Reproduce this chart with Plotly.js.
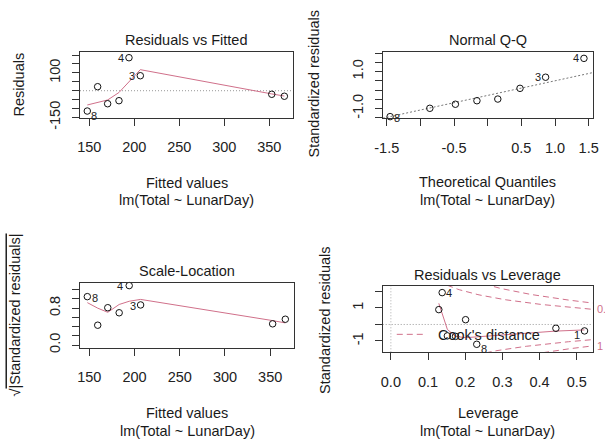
<!DOCTYPE html>
<html>
<head>
<meta charset="utf-8">
<script src="https://cdn.plot.ly/plotly-3.0.1.min.js"></script>
<style>
html,body{margin:0;padding:0;background:#fff;}
#chart{width:605px;height:445px;}
</style>
</head>
<body>
<div id="chart"></div>
<script>
// ---------- data ----------
// Panel 1 & 3: fitted values (shared), residuals, lowess smooth
const fitted        = [147.8, 159.3, 170.4, 183.0, 194.1, 206.7, 352.7, 366.7];
const residuals     = [-114, 22.5, -73, -56, 185, 84, -20, -31];
const residSmooth   = [-80, -66, -52, -10, 50, 118, -18, -30];
const fittedIds     = ['8', '', '', '', '4', '3', '', ''];

// Panel 2: Normal Q-Q
const theoQuantiles = [-1.45, -0.86, -0.48, -0.16, 0.15, 0.48, 0.86, 1.43];
const qqStdResid    = [-1.44, -0.99, -0.77, -0.58, -0.49, 0.09, 0.69, 1.71];
const qqIds         = ['8', '', '', '', '', '', '3', '4'];

// Panel 3: Scale-Location
const sqrtAbsStd    = [1.05, 0.43, 0.81, 0.70, 1.29, 0.87, 0.46, 0.56];
const slSmooth      = [0.92, 0.80, 0.71, 0.88, 0.95, 0.99, 0.53, 0.48];
const slIds         = ['8', '', '', '', '4', '3', '', ''];

// Panel 4: Residuals vs Leverage
const leverage      = [0.129, 0.138, 0.152, 0.174, 0.201, 0.231, 0.444, 0.521];
const levStdResid   = [0.90, 1.93, -0.69, -0.72, 0.29, -1.20, -0.23, -0.39];
const levSmooth     = [1.28, 0.70, -0.30, -0.72, -0.80, -0.75, -0.40, -0.33];
const levIds        = ['', '4', '', '', '', '8', '', '1'];
const cookLevels    = [0.5, 1];
const nCoef         = 2;

// tick labels
const x13Ticks = [150, 200, 250, 300, 350];
const x13Text  = ['150', '200', '250', '300', '350'];
const y1Ticks  = [-150, -100, -50, 0, 50, 100, 150, 200];
const y1Text   = ['-150', '', '', '', '', '100', '', ''];
const x2Ticks  = [-1.5, -1.0, -0.5, 0, 0.5, 1.0, 1.5];
const x2Text   = ['-1.5', '', '-0.5', '', '0.5', '1.0', '1.5'];
const y2Ticks  = [-1.5, -1.0, -0.5, 0, 0.5, 1.0, 1.5, 2.0];
const y2Text   = ['', '-1.0', '', '', '', '1.0', '', ''];
const y3Ticks  = [0, 0.2, 0.4, 0.6, 0.8, 1.0, 1.2];
const y3Text   = ['0.0', '', '', '', '0.8', '', ''];
const x4Ticks  = [0, 0.1, 0.2, 0.3, 0.4, 0.5];
const x4Text   = ['0.0', '0.1', '0.2', '0.3', '0.4', '0.5'];
const y4Ticks  = [-1, 0, 1, 2];
const y4Text   = ['-1', '', '1', ''];

// ---------- layout helpers ----------
const W = 605, H = 445;
const FONT = 'Liberation Sans, Arial, sans-serif';
const FS = 14.5;
const RED = '#D0708A';
const px = v => v / W;
const py = v => 1 - v / H;

const ranges = {
  x1: [139.7, 376.3], y1: [-153, 217],
  x2: [-1.56, 1.56],  y2: [-1.53, 2.07],
  x3: [139.7, 376.3], y3: [-0.065, 1.34],
  x4: [-0.022, 0.543], y4: [-1.685, 2.33]
};

function axisCommon(extra) {
  return Object.assign({
    showline: true, mirror: true, linecolor: '#333', linewidth: 1,
    ticks: 'outside', ticklen: 7, tickwidth: 1, tickcolor: '#333',
    showgrid: false, zeroline: false, fixedrange: true, automargin: false,
    tickfont: {family: FONT, size: FS, color: '#222'},
    tickmode: 'array'
  }, extra);
}

// Q-Q reference line through quartiles (as qqline does)
function quantile7(arr, p) {
  const s = arr.slice().sort((a, b) => a - b);
  const h = (s.length - 1) * p;
  const lo = Math.floor(h);
  return s[lo] + (h - lo) * ((s[lo + 1] !== undefined ? s[lo + 1] : s[lo]) - s[lo]);
}
const q25 = -0.6744897502, q75 = 0.6744897502;
const yq1 = quantile7(qqStdResid, 0.25), yq3 = quantile7(qqStdResid, 0.75);
const qqSlope = (yq3 - yq1) / (q75 - q25);
const qqInt = yq1 - qqSlope * q25;
const qqLineX = ranges.x2.slice();
const qqLineY = qqLineX.map(x => qqInt + qqSlope * x);

// Cook's distance contours
const hStart = Math.min(...leverage) / 100;
const hh = [];
for (let i = 0; i <= 100; i++) hh.push(hStart + (ranges.x4[1] - hStart) * i / 100);
const cookTraces = [];
cookLevels.forEach(c => {
  [1, -1].forEach(sgn => {
    cookTraces.push({
      x: hh, y: hh.map(h => sgn * Math.sqrt(c * nCoef * (1 - h) / h)),
      xaxis: 'x4', yaxis: 'y4', mode: 'lines', hoverinfo: 'skip',
      line: {color: RED, width: 1, dash: '6px,4px'}, showlegend: false
    });
  });
});
const xmax = ranges.x4[1];
const ymult = Math.sqrt(nCoef * (1 - xmax) / xmax);

function pts(x, y, xa, ya) {
  return {x: x, y: y, xaxis: xa, yaxis: ya, mode: 'markers', cliponaxis: false,
    marker: {symbol: 'circle-open', size: 6.5, color: '#111', line: {width: 1, color: '#111'}},
    showlegend: false, hoverinfo: 'skip'};
}
function smooth(x, y, xa, ya) {
  return {x: x, y: y, xaxis: xa, yaxis: ya, mode: 'lines', showlegend: false, hoverinfo: 'skip',
    line: {color: RED, width: 1}};
}

const traces = [
  smooth(fitted, residSmooth, 'x', 'y'),
  pts(fitted, residuals, 'x', 'y'),
  {x: qqLineX, y: qqLineY, xaxis: 'x2', yaxis: 'y2', mode: 'lines', showlegend: false, hoverinfo: 'skip',
   line: {color: '#777', width: 1, dash: '2px,2px'}},
  pts(theoQuantiles, qqStdResid, 'x2', 'y2'),
  smooth(fitted, slSmooth, 'x3', 'y3'),
  pts(fitted, sqrtAbsStd, 'x3', 'y3'),
  ...cookTraces,
  smooth(leverage, levSmooth, 'x4', 'y4'),
  pts(leverage, levStdResid, 'x4', 'y4')
];

// ---------- annotations ----------
const ann = [];
function txt(x, y, text, opts) {
  ann.push(Object.assign({x: px(x), y: py(y), xref: 'paper', yref: 'paper', text: text,
    showarrow: false, xanchor: 'center', yanchor: 'middle',
    font: {family: FONT, size: FS, color: '#1a1a1a'}}, opts || {}));
}
// panel 1
txt(186.5, 39.5, 'Residuals vs Fitted');
txt(186.5, 182.7, 'Fitted values');
txt(186.5, 200, 'lm(Total ~ LunarDay)');
txt(18.5, 85, 'Residuals', {textangle: -90});
// panel 2
txt(487.7, 39.5, 'Normal Q-Q');
txt(487.7, 181.7, 'Theoretical Quantiles');
txt(487.7, 200, 'lm(Total ~ LunarDay)');
txt(313.5, 84, 'Standardized residuals', {textangle: -90});
// panel 3
txt(187, 271, 'Scale-Location');
txt(187, 412.7, 'Fitted values');
txt(187, 430.5, 'lm(Total ~ LunarDay)');
txt(14, 315.5, '√<span style="text-decoration:overline">|Standardized residuals|</span>', {textangle: -90});
// panel 4
txt(487.7, 274.5, 'Residuals vs Leverage');
txt(487.7, 413.3, 'Leverage');
txt(487.7, 431, 'lm(Total ~ LunarDay)');
txt(325, 320, 'Standardized residuals', {textangle: -90});

// point id labels
function ids(x, y, labels, xa, ya, shifts) {
  labels.forEach((lab, i) => {
    if (!lab) return;
    const s = shifts[lab] || [8, 0];
    ann.push({x: x[i], y: y[i], xref: xa, yref: ya, text: lab, showarrow: false,
      xanchor: 'center', yanchor: 'middle', xshift: s[0], yshift: s[1],
      font: {family: FONT, size: 11, color: '#222'}});
  });
}
ids(fitted, residuals, fittedIds, 'x', 'y', {'8': [7, -5], '4': [-8, 0], '3': [-8, 0]});
ids(theoQuantiles, qqStdResid, qqIds, 'x2', 'y2', {'8': [7, -1], '3': [-8, 0], '4': [-8, 0]});
ids(fitted, sqrtAbsStd, slIds, 'x3', 'y3', {'8': [8, -1], '4': [-9, 0], '3': [-8, -1]});
ids(leverage, levStdResid, levIds, 'x4', 'y4', {'4': [7, 0], '8': [7, -5], '1': [-8, -4]});

// Cook's level labels on right side
ann.push({x: 1, y: Math.sqrt(cookLevels[0]) * ymult, xref: 'x4 domain', yref: 'y4', text: String(cookLevels[0]),
  showarrow: false, xanchor: 'left', yanchor: 'middle', xshift: 2, font: {family: FONT, size: 11, color: RED}});
ann.push({x: 1, y: -Math.sqrt(cookLevels[1]) * ymult, xref: 'x4 domain', yref: 'y4', text: String(cookLevels[1]),
  showarrow: false, xanchor: 'left', yanchor: 'middle', xshift: 2, font: {family: FONT, size: 11, color: RED}});
// Cook's distance legend text
ann.push({x: 0.252, y: 0.255, xref: 'x4 domain', yref: 'y4 domain', text: "Cook's distance",
  showarrow: false, xanchor: 'left', yanchor: 'middle', font: {family: FONT, size: FS, color: '#1a1a1a'}});

// ---------- shapes ----------
const shapes = [
  {type: 'line', xref: 'x domain', yref: 'y', x0: 0, x1: 1, y0: 0, y1: 0, layer: 'below',
   line: {color: '#999', width: 1, dash: '1px,2px'}},
  {type: 'line', xref: 'x4 domain', yref: 'y4', x0: 0, x1: 1, y0: 0, y1: 0, layer: 'below',
   line: {color: '#999', width: 1, dash: '1px,2px'}},
  {type: 'line', xref: 'x4', yref: 'y4 domain', x0: 0, x1: 0, y0: 0, y1: 1, layer: 'below',
   line: {color: '#aaa', width: 1, dash: '1px,2px'}},
  {type: 'line', xref: 'x4 domain', yref: 'y4 domain', x0: 0.067, x1: 0.193, y0: 0.271, y1: 0.271,
   line: {color: RED, width: 1, dash: '6px,4px'}}
];

const layout = {
  width: W, height: H,
  margin: {l: 0, r: 0, t: 0, b: 0},
  paper_bgcolor: '#fff', plot_bgcolor: '#fff',
  showlegend: false,
  font: {family: FONT, size: FS, color: '#1a1a1a'},
  xaxis:  axisCommon({domain: [px(80), px(293)], range: ranges.x1, anchor: 'y',
    tickvals: x13Ticks, ticktext: x13Text, ticklabelstandoff: 9}),
  yaxis:  axisCommon({domain: [py(118), py(52)], range: ranges.y1, anchor: 'x',
    tickvals: y1Ticks, ticktext: y1Text, tickangle: -90, ticklabelstandoff: 6}),
  xaxis2: axisCommon({domain: [px(382.7), px(592.7)], range: ranges.x2, anchor: 'y2',
    tickvals: x2Ticks, ticktext: x2Text, ticklabelstandoff: 9}),
  yaxis2: axisCommon({domain: [py(118.3), py(51.7)], range: ranges.y2, anchor: 'x2',
    tickvals: y2Ticks, ticktext: y2Text, tickangle: -90, ticklabelstandoff: 6}),
  xaxis3: axisCommon({domain: [px(80), px(294)], range: ranges.x3, anchor: 'y3',
    tickvals: x13Ticks, ticktext: x13Text, ticklabelstandoff: 9}),
  yaxis3: axisCommon({domain: [py(348), py(283.3)], range: ranges.y3, anchor: 'x3',
    tickvals: y3Ticks, ticktext: y3Text, tickangle: -90, ticklabelstandoff: 6}),
  xaxis4: axisCommon({domain: [px(382.7), px(592.7)], range: ranges.x4, anchor: 'y4',
    tickvals: x4Ticks, ticktext: x4Text, ticklabelstandoff: 9}),
  yaxis4: axisCommon({domain: [py(352.3), py(286)], range: ranges.y4, anchor: 'x4',
    tickvals: y4Ticks, ticktext: y4Text, tickangle: -90, ticklabelstandoff: 6}),
  annotations: ann,
  shapes: shapes
};

Plotly.newPlot('chart', traces, layout, {staticPlot: true, displayModeBar: false});
</script>
</body>
</html>
